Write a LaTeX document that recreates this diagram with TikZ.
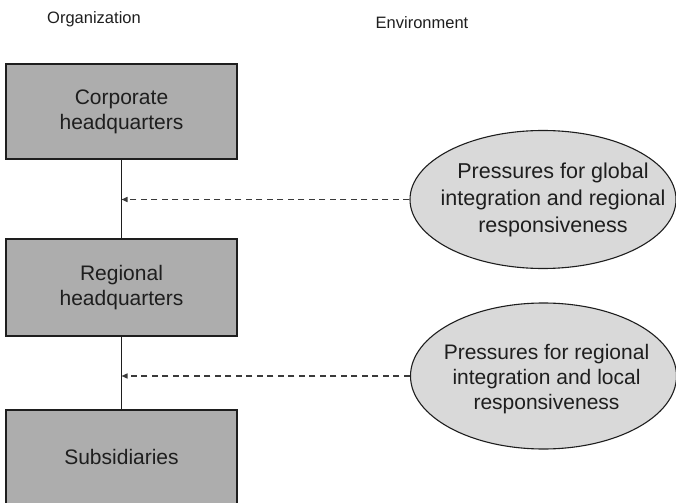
\documentclass[tikz,border=0pt]{standalone}
\usepackage{fontspec}
\setmainfont{Liberation Sans}
\usetikzlibrary{shapes.geometric,arrows.meta}
\definecolor{boxgray}{HTML}{ADADAD}
\definecolor{ovalgray}{HTML}{D9D9D9}
\definecolor{ink}{HTML}{1E1E1E}
\definecolor{dashink}{HTML}{3A3A3A}
\tikzset{
  unit/.style={draw=ink, line width=1.2bp, fill=boxgray, rectangle,
    minimum width=231bp, inner sep=0pt, align=center, text=ink,
    font=\fontsize{21bp}{25bp}\selectfont},
  oval/.style={draw=ink, line width=1.1bp, fill=ovalgray, ellipse, inner sep=0pt},
  ovaltext/.style={align=center, text=ink, inner sep=0pt},
  header/.style={text=ink, font=\fontsize{16.5bp}{19bp}\selectfont},
  link/.style={draw=ink, line width=1.2bp},
  pressure/.style={draw=dashink, line width=1.4bp, dash pattern=on 6bp off 4.5bp,
    -{Triangle[length=6bp,width=5bp]}}
}
\begin{document}
\begin{tikzpicture}[x=1bp,y=-1bp]
\useasboundingbox (0,0) rectangle (676,503);

% column headings
\node[header] (org) at (94,19) {Organization};
\node[header] (env) at (422,23) {Environment};

% organisational levels
\node[unit, minimum height=95bp] (corp) at (121.5,111.5) {Corporate\\headquarters};
\node[unit, minimum height=97bp] (reg) at (121.5,287.5) {Regional\\headquarters};
\node[unit, minimum height=94bp] (sub) at (121.5,457) {Subsidiaries};

\draw[link] (corp.south) -- (reg.north);
\draw[link] (reg.south) -- (sub.north);

% environmental pressures
\node[oval, minimum width=266bp, minimum height=138bp] (glob) at (543,199.5) {};
\node[ovaltext, font=\fontsize{21.5bp}{27bp}\selectfont] (globt) at ([xshift=10bp]glob.center) {Pressures for global\\integration and regional\\responsiveness};

\node[oval, minimum width=266bp, minimum height=146bp] (loc) at (543.5,376) {};
\node[ovaltext, font=\fontsize{21bp}{25bp}\selectfont] (loct) at ([xshift=3bp,yshift=-3bp]loc.center) {Pressures for regional\\integration and local\\responsiveness};

% pressures acting on the links between levels
\draw[pressure] (glob.west) -- (glob.west -| corp.south);
\draw[pressure] (loc.west) -- (loc.west -| reg.south);
\end{tikzpicture}
\end{document}
